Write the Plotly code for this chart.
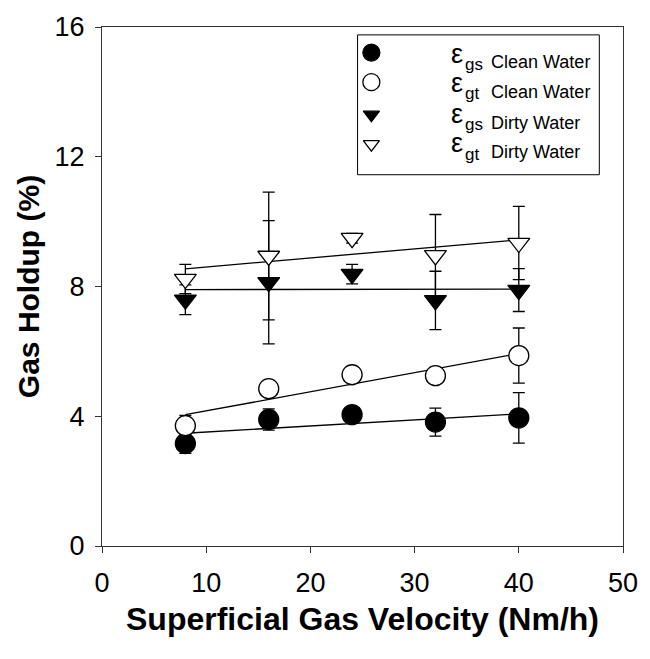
import numpy as np
import plotly.graph_objects as go

velocity = [8, 16, 24, 32, 40]

gs_clean = [3.16, 3.90, 4.05, 3.82, 3.95]
gs_clean_err = [0.30, 0.33, 0.15, 0.43, 0.78]

gt_clean = [3.71, 4.85, 5.28, 5.25, 5.87]
gt_clean_err = [0.32, 0.20, 0.20, 0.20, 0.85]

gs_dirty = [7.59, 8.13, 8.38, 7.57, 7.89]
gs_dirty_err = [0.46, 1.90, 0.30, 0.90, 0.66]

gt_dirty = [8.23, 8.94, 9.49, 8.96, 9.34]
gt_dirty_err = [0.45, 1.97, 0.15, 1.26, 1.13]

legend_symbol = ["ε", "ε", "ε", "ε"]
legend_sub = ["gs", "gt", "gs", "gt"]
legend_water = ["Clean Water", "Clean Water", "Dirty Water", "Dirty Water"]

FONT = "Liberation Sans, Arial, sans-serif"
fig = go.Figure()

series = [
    (gs_clean, gs_clean_err, "circle", "black", 20),
    (gt_clean, gt_clean_err, "circle", "white", 20),
    (gs_dirty, gs_dirty_err, "triangle-down", "black", 19),
    (gt_dirty, gt_dirty_err, "triangle-down", "white", 19),
]

# regression lines
for ys, _, _, _, _ in series:
    k, b = np.polyfit(velocity, ys, 1)
    xs = [velocity[0], velocity[-1]]
    fig.add_trace(go.Scatter(
        x=xs, y=[k * x + b for x in xs], mode="lines",
        line=dict(color="black", width=1.3), showlegend=False, hoverinfo="skip"))

for ys, err, sym, fill, size in series:
    fig.add_trace(go.Scatter(
        x=velocity, y=ys, mode="markers", showlegend=False,
        marker=dict(symbol=sym, size=size, color=fill, opacity=1,
                    line=dict(color="black", width=1.3)),
        error_y=dict(type="data", array=err, visible=True, color="black",
                     thickness=1.3, width=6),
    ))

# ---- legend box (positions given in page pixels, mapped onto the plot area) ----
PX0, PX1, PY0, PY1 = 102, 630, 19, 546   # plot area in page pixels


def fx(px):
    return (px - PX0) / (PX1 - PX0)


def fy(py):
    return (PY1 - py) / (PY1 - PY0)


L_LEFT, L_RIGHT, L_TOP, L_BOT = 361, 606, 27, 169
row_y = [45, 75, 108, 138]
mark_x = 375
fig.add_shape(type="rect", xref="paper", yref="paper", x0=fx(L_LEFT), x1=fx(L_RIGHT),
              y0=fy(L_BOT), y1=fy(L_TOP), line=dict(color="black", width=1),
              fillcolor="rgba(0,0,0,0)")
fig.add_trace(go.Scatter(
    x=[mark_x] * 4, y=row_y, xaxis="x2", yaxis="y2", mode="markers",
    showlegend=False, hoverinfo="skip", opacity=1,
    marker=dict(symbol=[s[2] for s in series], color=[s[3] for s in series],
                size=[17, 17, 14, 14], opacity=1,
                line=dict(color="black", width=1.3)),
))
for i, ry in enumerate(row_y):
    ty = ry + 1 if i < 2 else ry - 1
    fig.add_annotation(xref="paper", yref="paper", x=fx(454), y=fy(ty), xanchor="left",
                       yanchor="middle", text=legend_symbol[i], showarrow=False,
                       font=dict(size=27, family=FONT))
    fig.add_annotation(xref="paper", yref="paper", x=fx(468), y=fy(ty + 11), xanchor="left",
                       yanchor="middle", text=legend_sub[i], showarrow=False,
                       font=dict(size=17, family=FONT))
    fig.add_annotation(xref="paper", yref="paper", x=fx(494), y=fy(ty + 9), xanchor="left",
                       yanchor="middle", text=legend_water[i], showarrow=False,
                       font=dict(size=18, family=FONT))

fig.update_layout(
    width=650, height=659,
    margin=dict(l=PX0, r=650 - PX1, t=PY0, b=659 - PY1),
    plot_bgcolor="white", paper_bgcolor="white",
    font=dict(family=FONT, color="black"),
    showlegend=False,
    xaxis=dict(
        range=[0, 50], tickvals=[0, 10, 20, 30, 40, 50], ticks="outside",
        ticklen=6, tickcolor="#333", showgrid=False, zeroline=False,
        showline=True, linecolor="#333", linewidth=1, mirror=True,
        tickfont=dict(size=27), ticklabelstandoff=7,
        title=dict(text="<b>Superficial Gas Velocity (Nm/h)</b>",
                   font=dict(size=32), standoff=10),
    ),
    yaxis=dict(
        range=[0, 16], tickvals=[0, 4, 8, 12, 16], ticks="outside",
        ticklen=6, tickcolor="#333", showgrid=False, zeroline=False,
        showline=True, linecolor="#333", linewidth=1, mirror=True,
        tickfont=dict(size=27), ticklabelstandoff=5,
        title=dict(text="<b>Gas Holdup (%)</b>", font=dict(size=30), standoff=6),
    ),
    xaxis2=dict(overlaying="x", range=[PX0, PX1], visible=False, fixedrange=True),
    yaxis2=dict(overlaying="y", range=[PY1, PY0], visible=False, fixedrange=True),
)

fig.write_html("out.html")
